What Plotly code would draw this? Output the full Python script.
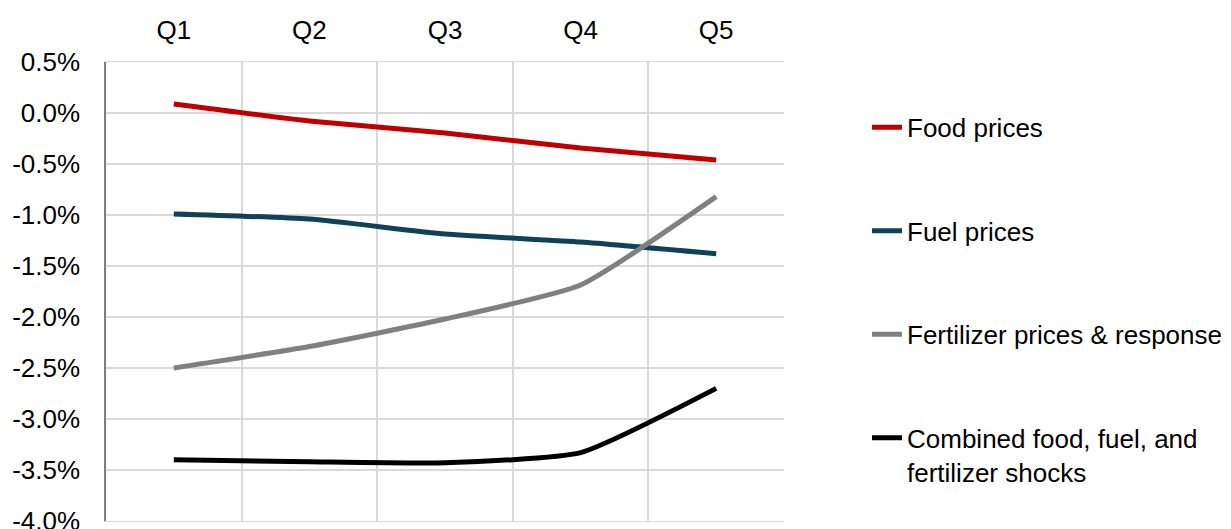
import plotly.graph_objects as go

categories = ["Q1", "Q2", "Q3", "Q4", "Q5"]
food = [0.088, -0.078, -0.196, -0.343, -0.46]
fuel = [-0.99, -1.04, -1.186, -1.265, -1.38]
fert = [-2.50, -2.29, -2.02, -1.686, -0.82]
combined = [-3.40, -3.42, -3.43, -3.33, -2.70]
names = ["Food prices", "Fuel prices", "Fertilizer prices & response",
         "Combined food, fuel, and<br>fertilizer shocks"]
colors = ["#C00000", "#0E4259", "#808080", "#000000"]
yticks = [0.5, 0.0, -0.5, -1.0, -1.5, -2.0, -2.5, -3.0, -3.5, -4.0]

fig = go.Figure()
for i, (vals, name, col) in enumerate(zip([food, fuel, fert, combined], names, colors)):
    fig.add_trace(go.Scatter(
        x=categories, y=vals, mode="lines", name=name,
        line=dict(color=col, width=5, shape="spline", smoothing=0.5),
        legendgroup=f"g{i}",
    ))

fig.add_hline(y=0, line=dict(color="#000000", width=1.3), layer="below")

fig.update_layout(
    width=1231, height=529,
    margin=dict(l=106, r=447, t=62, b=8, autoexpand=False),
    plot_bgcolor="white", paper_bgcolor="white",
    font=dict(family="Liberation Sans, Arial", size=26, color="#000"),
    showlegend=True,
    legend=dict(
        x=(867 - 106) / (1231 - 106 - 447), xanchor="left",
        y=0.909, yanchor="top",
        xref="paper", yref="paper",
        font=dict(size=26), tracegroupgap=66.7, valign="top",
        bgcolor="rgba(0,0,0,0)", itemwidth=30,
    ),
)

fig.update_xaxes(
    type="category", side="top", range=[-0.5, 4.5],
    tickson="boundaries", showgrid=True, gridcolor="#D9D9D9", gridwidth=1.5,
    ticks="", ticklabelstandoff=12, showline=True, linecolor="#D9D9D9",
    mirror=True, zeroline=False, tickfont=dict(size=26), automargin=False,
)
fig.update_yaxes(
    range=[-4.0, 0.5], tickvals=yticks,
    ticktext=[f"{v:.1f}%" for v in yticks],
    showgrid=True, gridcolor="#D9D9D9", gridwidth=1.5,
    zeroline=False, showline=True, linecolor="#7F7F7F", linewidth=1.5,
    ticks="", ticklabelstandoff=19, tickfont=dict(size=26),
    ticklabeloverflow="allow", automargin=False,
)

fig.write_html("out.html")
